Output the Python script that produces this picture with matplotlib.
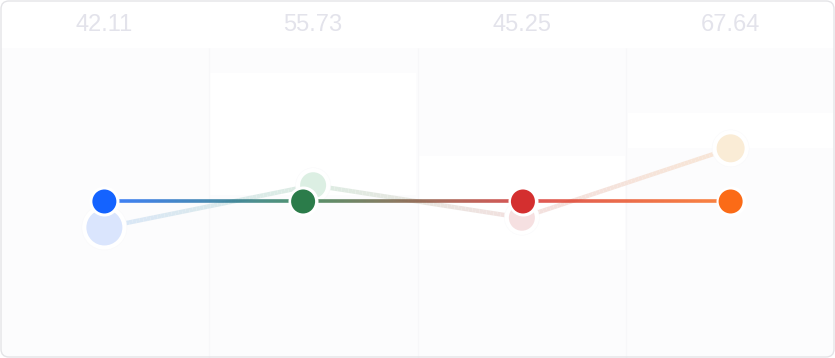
import matplotlib

matplotlib.use("Agg")
import matplotlib.pyplot as plt
import numpy as np
from matplotlib.collections import LineCollection
from matplotlib.colors import to_rgba
from matplotlib.patches import FancyBboxPatch
from matplotlib.transforms import blended_transform_factory

# data
values = [42.11, 55.73, 45.25, 67.64]
value_labels = ["42.11", "55.73", "45.25", "67.64"]
band_low = [np.nan, 52.6, 34.8, 67.7]
band_high = [np.nan, 92.0, 65.2, 79.0]

# styles
solid_colors = ["#1463ff", "#2b7c4a", "#d42f2f", "#fb6b17"]
faded_colors = ["#dae5fd", "#dcefe3", "#f6e0e1", "#faecd6"]
faded_line_colors = ["#d9e6f8", "#dcece2", "#f3e0df", "#f8e6d6"]
faded_radius_px = [18, 13, 13, 14]
solid_radius_px = 12
solid_shift = [0.0, -0.048, 0.005, 0.0]

W, H, DPI = 835, 358, 100
HEADER = 48
PX2PT = 72 / DPI


def msize(radius_px):
    return (2 * radius_px * PX2PT) ** 2


def gradient_line(ax, xs, ys, colors, lw, alpha, z):
    segs, cols = [], []
    for i in range(len(xs) - 1):
        c0, c1 = np.array(to_rgba(colors[i])), np.array(to_rgba(colors[i + 1]))
        t = np.linspace(0, 1, 60)
        px = xs[i] + (xs[i + 1] - xs[i]) * t
        py = ys[i] + (ys[i + 1] - ys[i]) * t
        for k in range(len(t) - 1):
            segs.append([(px[k], py[k]), (px[k + 1], py[k + 1])])
            c = c0 + (c1 - c0) * (t[k] + t[k + 1]) / 2
            c[3] = alpha
            cols.append(c)
    lc = LineCollection(segs, colors=cols, linewidths=lw, capstyle="butt", zorder=z)
    ax.add_collection(lc)


fig = plt.figure(figsize=(W / DPI, H / DPI), dpi=DPI)
fig.patch.set_facecolor("white")

frame = FancyBboxPatch((1, 1), W - 2, H - 2, boxstyle="round,pad=0,rounding_size=8",
                       transform=None, facecolor="none", edgecolor="#e4e4e7",
                       linewidth=1.0, zorder=10)
fig.patches.append(frame)

ax = fig.add_axes([0, 0, 1, (H - HEADER) / H])
ax.set_xlim(-0.5, 3.5)
ax.set_ylim(0, 100)
ax.axis("off")

idx = np.arange(len(values))

bg = ax.bar(idx, 100, width=1.0, bottom=0, color="#fcfcfd", zorder=0)
bands = ax.bar(idx, np.array(band_high) - np.array(band_low), width=0.985,
               bottom=band_low, color="white", zorder=1)
ax.vlines(idx[:-1] + 0.5, 0, 100, color="#f7f7f9", linewidth=1, zorder=1)
clip = FancyBboxPatch((1, 1), W - 2, H - 2, boxstyle="round,pad=0,rounding_size=8",
                      transform=None, facecolor="none", edgecolor="none")
for r in list(bg) + list(bands):
    r.set_clip_path(clip)

# faded actual-value layer
gradient_line(ax, idx, values, faded_line_colors, 3.2, 1.0, 2)
ax.scatter(idx, values, s=[msize(r + 4.5) for r in faded_radius_px],
           color="white", edgecolor="#f8f8fa", linewidth=0.3, zorder=3)
ax.scatter(idx, values, s=[msize(r) for r in faded_radius_px],
           color=faded_colors, linewidth=0, zorder=4)

# median reference layer
median = float(np.median(values))
xs = idx + np.array(solid_shift)
ys = [median] * len(values)
gradient_line(ax, xs, ys, solid_colors, 2.6, 0.82, 5)
ax.scatter(xs, ys, s=msize(solid_radius_px + 3), color="white", linewidth=0, zorder=6)
ax.scatter(xs, ys, s=msize(solid_radius_px), color=solid_colors, linewidth=0, zorder=7)

# header values
trans = blended_transform_factory(ax.transData, fig.transFigure)
for i, lab in enumerate(value_labels):
    ax.text(i, 1 - 25 / H, lab, transform=trans, ha="center", va="center",
            fontsize=17, color="#e3e3eb", family=["Liberation Sans", "DejaVu Sans"],
            clip_on=False)

fig.savefig("out.png", dpi=DPI, facecolor="white")
